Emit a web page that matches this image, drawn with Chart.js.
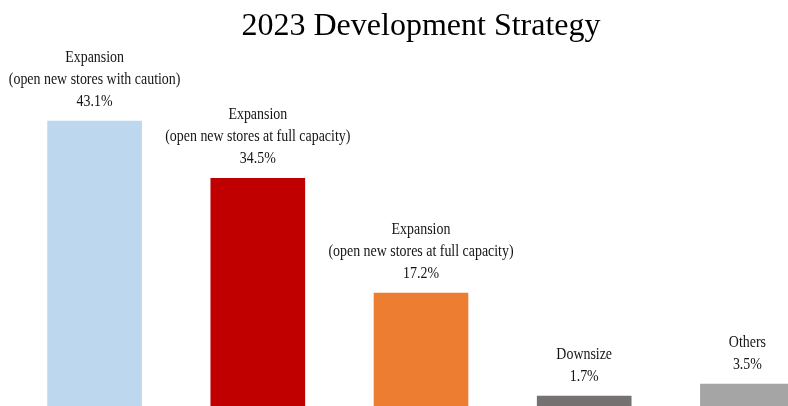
<!DOCTYPE html>
<html>
<head>
<meta charset="utf-8">
<script src="https://cdn.jsdelivr.net/npm/chart.js@4/dist/chart.umd.min.js"></script>
<style>
    html, body { margin: 0; padding: 0; background: #fff; overflow: hidden; }
    .chart-box { width: 788px; height: 406px; overflow: hidden; position: relative; }
    #strategy-chart { position: absolute; left: 0; top: 0; }
</style>
</head>
<body>
<div class="chart-box">
    <canvas id="strategy-chart" width="844" height="407"></canvas>
</div>
<script>
// Chart data

var categories = [
    ['Expansion', '(open new stores with caution)'],
    ['Expansion', '(open new stores at full capacity)'],
    ['Expansion', '(open new stores at full capacity)'],
    ['Downsize'],
    ['Others']
]
var shares = [43.1, 34.5, 17.2, 1.7, 3.5]
var barColors = ['#BDD7EE', '#C00000', '#ED7D31', '#767171', '#A5A5A5']

var chartTitle = '2023 Development Strategy'
var serif = '"Liberation Serif", "Times New Roman", serif'

// Title drawn over the plot, centred on the bar area
var titlePlugin = {
    id: 'centerTitle',
    afterDraw: function (chart) {
        var ctx = chart.ctx
        var area = chart.chartArea
        ctx.save()
        ctx.fillStyle = '#000'
        ctx.font = '32px ' + serif
        ctx.textAlign = 'center'
        ctx.textBaseline = 'alphabetic'
        ctx.fillText(chartTitle, (area.left + area.right) / 2, 35)
        ctx.restore()
    }
}

// Category name and share written above each bar
var barLabelPlugin = {
    id: 'barLabels',
    afterDatasetsDraw: function (chart) {
        var ctx = chart.ctx
        var meta = chart.getDatasetMeta(0)
        ctx.save()
        ctx.fillStyle = '#141414'
        ctx.font = '16px ' + serif
        ctx.textAlign = 'center'
        ctx.textBaseline = 'middle'
        meta.data.forEach(function (bar, i) {
            var lines = categories[i].concat([shares[i].toFixed(1) + '%'])
            var y = bar.y - 19 - (lines.length - 1) * 22
            lines.forEach(function (line) {
                ctx.save()
                ctx.translate(bar.x, y)
                ctx.scale(0.87, 1)
                ctx.fillText(line, 0, 0)
                ctx.restore()
                y += 22
            })
        })
        ctx.restore()
    }
}

var ctx = document.getElementById('strategy-chart').getContext('2d')
var strategyChart = new Chart(ctx, {
    type: 'bar',
    data: {
        labels: categories,
        datasets: [{
            data: shares,
            backgroundColor: barColors,
            borderWidth: 0,
            categoryPercentage: 1,
            barPercentage: 0.58
        }]
    },
    options: {
        responsive: false,
        animation: false,
        layout: {
            padding: { left: 13, right: 15, top: 0, bottom: 0 }
        },
        plugins: {
            legend: { display: false },
            title: { display: false },
            tooltip: { enabled: false }
        },
        scales: {
            x: { display: false },
            y: { display: false, min: 0, max: 61.3 }
        }
    },
    plugins: [titlePlugin, barLabelPlugin]
})
</script>
</body>
</html>
